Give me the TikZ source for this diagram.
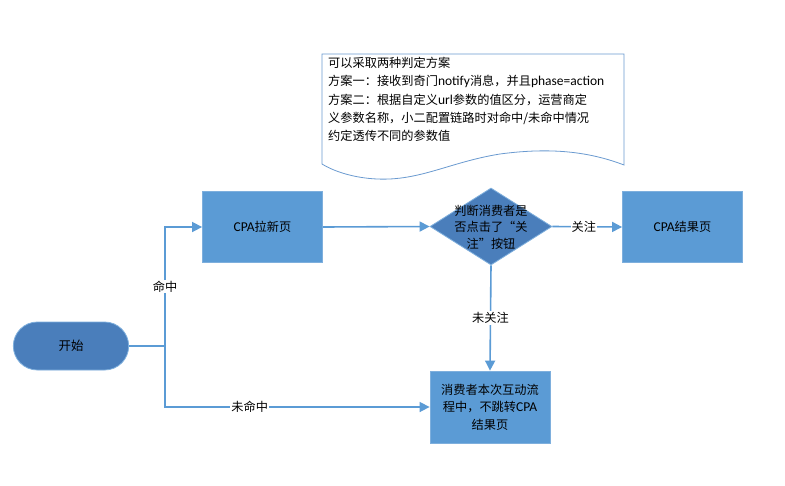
\documentclass[tikz,border=0pt]{standalone}
\usepackage{fontspec}
\setmainfont{Noto Sans CJK SC}
\newfontfamily\lat{Carlito}
\usetikzlibrary{shapes.geometric,shapes.misc,arrows.meta}
\definecolor{rectblue}{HTML}{5B9BD5}
\definecolor{darkblue}{HTML}{4A7EBB}
\definecolor{edgeblue}{HTML}{5B9BD5}
\definecolor{bordblue}{HTML}{7EAFDD}
\definecolor{noteline}{HTML}{6A9AD0}
\tikzset{
  procbox/.style={rectangle, fill=rectblue, draw=bordblue, line width=0.8pt, minimum width=120pt, minimum height=71pt, inner sep=2pt, align=center, font=\fontsize{12.2}{17.5}\selectfont},
  termbox/.style={rounded rectangle, fill=darkblue, draw=bordblue, line width=0.8pt, minimum width=122pt, minimum height=48pt, font=\fontsize{12.5}{17}\selectfont},
  decbox/.style={diamond, fill=darkblue, draw=bordblue, line width=0.8pt, minimum width=122pt, minimum height=77pt, aspect=1.6, inner sep=0pt},
  conn/.style={draw=edgeblue, line width=1.6pt, -{Triangle[length=10pt,width=10pt]}},
  plainconn/.style={draw=edgeblue, line width=1.6pt},
  lbl/.style={fill=white, inner sep=1pt, font=\fontsize{12.2}{14}\selectfont},
}
\begin{document}
\begin{tikzpicture}[x=1pt,y=-1pt]
\useasboundingbox (0,0) rectangle (785,485);
\fill[white] (0,0) rectangle (785,485);
% note document shape
\draw[noteline, line width=0.8pt, fill=white] (322,54) -- (624,54) -- (624,165)
  .. controls (585,150) and (545,148) .. (500,154)
  .. controls (450,162) and (420,181) .. (377,179)
  .. controls (355,178) and (335,172) .. (322,164) -- cycle;
\node[anchor=north west, align=left, inner sep=0pt, font=\fontsize{12.2}{18.3}\selectfont] (note) at (328,57) {可以采取两种判定方案\\方案一：接收到奇门{\lat\fontsize{13.5}{18}\selectfont notify}消息，并且{\lat\fontsize{13.5}{18}\selectfont phase=action}\\方案二：根据自定义{\lat\fontsize{13.5}{18}\selectfont url}参数的值区分，运营商定\\义参数名称，小二配置链路时对命中/未命中情况\\约定透传不同的参数值};
% nodes
\node[termbox] (start) at (71,346) {开始};
\node[procbox] (lx) at (262.5,227) {{\lat\fontsize{13.5}{17}\selectfont CPA}拉新页};
\node[decbox] (dec) at (491,226.5) {};
\node[align=center, inner sep=0pt, font=\fontsize{12.2}{16.5}\selectfont] (dectxt) at (491,227) {判断消费者是\\否点击了“关\\注”按钮};
\node[procbox] (res) at (682.5,227) {{\lat\fontsize{13.5}{17}\selectfont CPA}结果页};
\node[procbox, minimum height=72pt] (nores) at (490,407) {消费者本次互动流\\程中，不跳转{\lat\fontsize{13.5}{17}\selectfont CPA}\\结果页};
\coordinate (j) at (165,346);
% connectors
\draw[plainconn] (start.east) -- (j);
\draw[conn] (j) |- node[pos=0.25, lbl] {命中} (lx.west);
\draw[conn] (j) |- node[pos=0.66, lbl] {未命中} (nores.west);
\draw[conn] (lx.east) -- (dec.west);
\draw[conn] (dec.east) -- node[lbl, pos=0.45] {关注} (res.west);
\draw[conn] (dec.south) -- node[lbl, pos=0.5] {未关注} (nores.north);
\end{tikzpicture}
\end{document}
